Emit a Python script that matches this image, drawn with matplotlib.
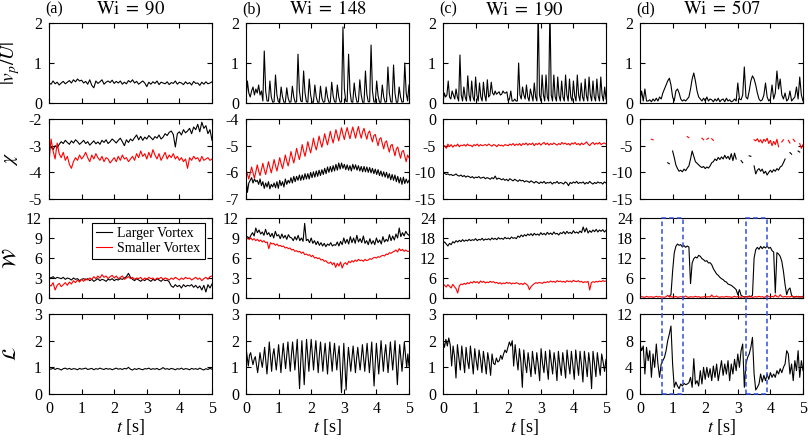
import matplotlib.pyplot as plt
import matplotlib.transforms as mtransforms
from matplotlib.patches import Rectangle
import numpy as np

nan = np.nan

# ---- labels -------------------------------------------------------------
panels = ['(a)', '(b)', '(c)', '(d)']
titles = [r'$\mathrm{Wi}\;=\;90$', r'$\mathrm{Wi}\;=\;148$', r'$\mathrm{Wi}\;=\;190$', r'$\mathrm{Wi}\;=\;507$']
ylabels = [r'$|v_p/U|$', r'$\chi$', r'$\mathcal{W}$', r'$\mathcal{L}$']
legend_labels = ['Larger Vortex', 'Smaller Vortex']

# ---- (a) Wi = 90 --------------------------------------------------------
vp_a = [0.50, 0.47, 0.55, 0.48, 0.52, 0.45, 0.50, 0.54, 0.48, 0.52, 0.56, 0.50, 0.58, 0.53, 0.60, 0.55,
        0.57, 0.50, 0.54, 0.47, 0.58, 0.44, 0.38, 0.55, 0.49, 0.53, 0.58, 0.47, 0.52, 0.55, 0.51, 0.57,
        0.49, 0.54, 0.50, 0.55, 0.47, 0.52, 0.48, 0.56, 0.52, 0.58, 0.50, 0.54, 0.47, 0.51, 0.55, 0.50,
        0.41, 0.52, 0.47, 0.53, 0.49, 0.55, 0.46, 0.52, 0.50, 0.48, 0.53, 0.46, 0.51, 0.49, 0.55, 0.47,
        0.52, 0.50, 0.46, 0.53, 0.48, 0.51, 0.45, 0.54, 0.49, 0.50, 0.44, 0.52, 0.47, 0.53, 0.48, 0.50, 0.53]
chi_a_large = [-3.10, -3.05, -3.15, -3.00, -3.08, -2.95, -2.85, -2.92, -2.80, -2.88, -2.95, -2.82, -2.90,
               -2.78, -2.85, -2.95, -2.88, -2.80, -2.92, -2.85, -2.98, -2.90, -2.82, -2.93, -2.86, -2.95,
               -2.80, -2.88, -2.78, -2.92, -2.85, -2.75, -2.82, -2.90, -2.80, -2.72, -2.85, -3.00, -2.78,
               -2.88, -2.75, -2.82, -2.70, -2.60, -2.78, -2.65, -2.80, -2.68, -2.75, -2.62, -2.70, -2.78,
               -2.66, -2.72, -2.60, -2.75, -2.68, -2.55, -2.62, -2.50, -2.45, -2.58, -3.05, -2.55, -2.48,
               -2.60, -2.40, -2.52, -2.45, -2.35, -2.55, -2.30, -2.40, -2.20, -2.48, -2.12, -2.35, -2.25,
               -2.55, -2.40, -2.80]
chi_a_small = [-3.65, -2.75, -3.20, -3.50, -2.90, -3.30, -3.45, -3.25, -3.55, -3.40, -3.70, -3.85, -3.60,
               -3.45, -3.55, -3.35, -3.50, -3.40, -3.25, -3.45, -3.60, -3.35, -3.50, -3.30, -3.45, -3.55,
               -3.40, -3.60, -3.45, -3.50, -3.65, -3.55, -3.45, -3.60, -3.40, -3.55, -3.35, -3.50, -3.45,
               -3.60, -3.50, -3.40, -3.55, -3.30, -3.45, -3.20, -3.40, -3.30, -3.50, -3.25, -3.45, -3.15,
               -3.35, -3.50, -3.30, -3.55, -3.40, -3.25, -3.50, -3.35, -3.45, -3.30, -3.50, -3.40, -3.55,
               -3.45, -3.60, -3.50, -3.85, -3.45, -3.55, -3.40, -3.50, -3.45, -3.60, -3.40, -3.55, -3.50,
               -3.45, -3.55, -3.50]
w_a_large = [3.1, 3.0, 3.2, 2.9, 3.1, 3.0, 2.9, 3.1, 2.8, 3.0, 2.9, 2.7, 3.0, 2.8, 2.9, 2.6, 2.8, 2.9, 2.7,
             2.9, 2.6, 2.8, 2.5, 2.7, 2.9, 2.6, 2.8, 2.7, 2.5, 2.8, 2.7, 2.9, 2.6, 2.8, 2.7, 2.9, 2.8, 3.0,
             3.2, 3.7, 3.1, 2.8, 2.6, 2.9, 2.7, 2.5, 2.8, 2.6, 2.9, 2.7, 2.5, 2.8, 2.6, 2.9, 2.7, 2.5, 2.8,
             2.6, 2.7, 2.4, 1.8, 1.6, 2.0, 1.7, 1.9, 1.5, 2.0, 1.7, 1.9, 1.8, 2.0, 1.6, 1.9, 1.5, 1.8, 1.2,
             1.9, 0.9, 2.0, 1.5, 2.1]
w_a_small = [2.0, 1.8, 2.3, 1.2, 1.9, 2.2, 1.7, 2.0, 2.3, 1.9, 2.4, 2.1, 2.6, 2.3, 2.7, 2.4, 2.8, 2.5, 2.9,
             2.7, 3.0, 2.8, 3.2, 2.9, 3.3, 3.0, 3.5, 3.1, 3.3, 2.9, 3.2, 3.4, 3.0, 3.3, 2.9, 3.1, 3.3, 2.8,
             3.0, 3.2, 2.9, 3.1, 2.8, 3.0, 2.9, 3.1, 2.7, 3.0, 2.8, 3.1, 2.9, 3.0, 2.7, 3.0, 2.9, 3.1, 2.8,
             3.0, 2.9, 2.7, 3.0, 2.8, 3.1, 2.9, 2.7, 3.0, 2.8, 3.1, 2.9, 3.0, 2.7, 2.9, 3.1, 2.8, 3.0, 2.6,
             2.9, 3.1, 2.8, 3.2, 3.3]
l_a = [0.95, 0.93, 0.97, 0.92, 0.96, 0.94, 0.90, 0.95, 0.97, 0.93, 0.96, 0.92, 0.95, 0.94, 0.91, 0.96,
       0.93, 0.95, 0.97, 0.92, 0.94, 0.96, 0.91, 0.95, 0.93, 0.97, 0.94, 0.92, 0.96, 0.93, 0.95, 0.91,
       0.94, 0.97, 0.93, 0.95, 0.92, 0.96, 0.94, 1.00, 0.93, 0.90, 0.95, 0.92, 0.96, 0.93, 0.91, 0.95,
       0.94, 0.97, 0.92, 0.95, 0.93, 0.96, 0.91, 0.94, 0.99, 0.93, 0.95, 0.92, 0.96, 0.94, 0.91, 0.95,
       0.93, 0.97, 0.92, 0.95, 0.94, 0.91, 0.96, 0.93, 0.95, 0.92, 0.97, 0.93, 0.90, 0.95, 0.92, 0.96, 0.93]

# ---- (b) Wi = 148 -------------------------------------------------------
vp_b = [0.10, 0.55, 0.25, 0.15, 0.30, 0.40, 0.20, 0.35, 0.25, 0.45, 0.20, 0.30,
        0.05, 1.30, 0.30, 0.05, 0.05, 0.55, 0.15, 0.02, 0.03, 0.70, 0.20, 0.03,
        0.02, 0.40, 0.15, 0.02, 0.02, 0.38, 0.12, 0.02, 0.03, 0.42, 0.15, 0.02,
        0.03, 1.22, 0.30, 0.05, 0.03, 0.80, 0.25, 0.03, 0.02, 0.60, 0.20, 0.02,
        0.02, 0.45, 0.15, 0.02, 0.02, 0.42, 0.12, 0.02, 0.03, 0.40, 0.15, 0.02,
        0.02, 0.52, 0.18, 0.03, 0.02, 0.45, 0.15, 0.02, 0.03, 1.90, 0.35, 0.05,
        0.03, 1.22, 0.30, 0.03, 0.02, 0.50, 0.18, 0.02, 0.03, 0.58, 0.20, 0.02,
        0.02, 0.80, 0.22, 0.03, 0.03, 1.45, 0.30, 0.03, 0.02, 0.55, 0.18, 0.02,
        0.02, 0.45, 0.15, 0.02, 0.03, 0.90, 0.25, 0.03, 0.02, 0.95, 0.25, 0.02,
        0.02, 0.40, 0.15, 0.02, 0.03, 1.00, 0.25, 0.05, 0.45]
chi_b_large = [-6.20, -6.75, -6.40, -6.30, -6.20, -6.40, -6.25, -6.35, -6.30, -6.45, -6.25, -6.50,
               -6.35, -6.60, -6.40, -6.55, -6.35, -6.62, -6.45, -6.55, -6.40, -6.58, -6.35, -6.60,
               -6.30, -6.50, -6.35, -6.55, -6.25, -6.45, -6.30, -6.40, -6.20, -6.40, -6.15, -6.35,
               -6.15, -6.30, -6.10, -6.30, -6.10, -6.28, -6.05, -6.25, -6.05, -6.25, -6.00, -6.20,
               -5.98, -6.18, -5.95, -6.15, -5.92, -6.12, -5.90, -6.08, -5.85, -6.05, -5.80, -6.00,
               -5.78, -5.98, -5.75, -5.95, -5.70, -5.92, -5.65, -5.88, -5.65, -5.85, -5.70, -5.90,
               -5.72, -5.92, -5.75, -5.95, -5.70, -5.88, -5.72, -5.92, -5.75, -5.95, -5.78, -5.98,
               -5.78, -5.98, -5.80, -6.00, -5.82, -6.02, -5.85, -6.05, -5.88, -6.08, -5.90, -6.12,
               -5.95, -6.15, -5.98, -6.18, -6.00, -6.22, -6.05, -6.28, -6.08, -6.30, -6.10, -6.35,
               -6.15, -6.40, -6.20, -6.45, -6.18, -6.42, -6.25, -6.40, -6.30]
chi_b_small = [-5.87, -6.07, -6.25, -6.03, -5.80, -6.02, -6.22, -5.98, -5.72, -5.95, -6.12, -5.90,
               -5.66, -5.90, -6.08, -5.85, -5.60, -5.82, -6.02, -5.78, -5.52, -5.75, -5.95, -5.70,
               -5.45, -5.68, -5.86, -5.62, -5.35, -5.58, -5.76, -5.52, -5.22, -5.45, -5.65, -5.40,
               -5.10, -5.32, -5.52, -5.27, -4.96, -5.20, -5.40, -5.15, -4.85, -5.08, -5.27, -5.02,
               -4.72, -4.98, -5.16, -4.92, -4.64, -4.87, -5.06, -4.82, -4.55, -4.78, -4.97, -4.72,
               -4.46, -4.70, -4.90, -4.65, -4.40, -4.62, -4.82, -4.57, -4.33, -4.58, -4.77, -4.52,
               -4.32, -4.55, -4.74, -4.50, -4.30, -4.52, -4.72, -4.47, -4.28, -4.53, -4.72, -4.48,
               -4.35, -4.58, -4.76, -4.52, -4.45, -4.68, -4.86, -4.62, -4.58, -4.80, -5.00, -4.75,
               -4.70, -4.92, -5.12, -4.88, -4.82, -5.05, -5.24, -5.00, -4.95, -5.17, -5.38, -5.12,
               -5.05, -5.28, -5.47, -5.22, -5.18, -5.40, -5.60, -5.35, -5.45]
w_b_large = [9.0, 9.2, 8.9, 9.4, 9.8, 9.3, 10.5, 9.8, 10.2, 9.6, 9.9, 9.4, 10.3, 9.5, 9.8, 9.2, 9.7,
             9.0, 10.0, 9.3, 9.5, 8.9, 9.6, 9.0, 9.4, 8.8, 9.5, 9.1, 9.0, 8.6, 9.2, 8.7, 9.4, 8.6, 9.0,
             8.5, 11.2, 8.6, 8.8, 8.3, 9.0, 8.2, 8.6, 8.0, 8.5, 7.9, 8.3, 7.8, 8.2, 7.7, 8.1, 7.9, 8.3,
             7.8, 8.0, 7.9, 8.4, 7.8, 8.5, 8.0, 9.0, 8.2, 8.8, 8.1, 9.2, 8.3, 9.0, 8.2, 9.4, 8.4, 8.9,
             8.3, 9.3, 8.2, 8.6, 8.0, 8.9, 8.1, 8.6, 8.0, 9.0, 8.3, 8.7, 8.1, 9.2, 8.4, 8.8, 8.5, 9.5,
             8.6, 9.3, 8.7, 9.6, 9.0, 10.5, 9.2, 9.8, 9.3, 10.0, 9.6, 9.4]
w_b_small = [9.0, 8.9, 8.8, 9.0, 8.7, 8.9, 8.6, 8.8, 8.5, 8.7, 8.4, 8.6, 8.3, 8.4, 7.4, 8.3, 8.1, 8.2,
             7.9, 8.1, 7.8, 7.9, 7.7, 7.8, 7.5, 7.6, 7.4, 7.5, 7.2, 7.3, 7.0, 7.1, 6.9, 7.0, 6.7, 6.9,
             6.5, 6.6, 6.4, 6.5, 6.2, 6.4, 6.0, 6.1, 5.9, 6.0, 5.7, 5.8, 5.5, 5.6, 5.3, 5.2, 5.4, 5.0,
             5.3, 4.6, 5.2, 4.8, 5.4, 4.5, 5.1, 5.3, 5.0, 5.5, 5.3, 5.6, 5.4, 5.7, 5.5, 5.8, 5.6, 5.7,
             5.5, 5.8, 5.6, 5.7, 5.9, 5.8, 6.0, 6.1, 6.0, 6.2, 6.1, 6.3, 6.4, 6.3, 6.6, 6.5, 6.8, 6.7,
             6.9, 7.0, 7.2, 6.9, 7.4, 7.1, 7.3, 7.0, 7.2, 7.0, 7.0]
l_b = [1.75, 1.40, 1.05, 1.45, 1.55, 1.30, 1.10, 1.30, 1.40, 1.10, 0.80, 1.15, 1.55, 1.25, 1.00, 1.35,
       1.75, 1.25, 0.75, 1.30, 1.95, 1.40, 0.85, 1.45, 1.70, 1.30, 0.90, 1.35, 1.85, 1.30, 0.80, 1.40,
       1.90, 1.40, 0.95, 1.45, 1.95, 1.40, 0.85, 1.45, 1.95, 1.40, 0.90, 1.50, 2.05, 1.10, 0.20, 1.20,
       2.00, 1.20, 0.35, 1.25, 2.05, 1.45, 0.85, 1.50, 2.05, 1.45, 0.90, 1.50, 2.00, 1.40, 0.80, 1.45,
       1.95, 1.40, 0.85, 1.45, 1.90, 1.30, 0.75, 1.40, 1.95, 1.40, 0.85, 1.45, 1.90, 1.40, 0.90, 1.45,
       1.80, 0.90, 0.05, 1.00, 1.90, 1.00, 0.15, 1.10, 1.75, 1.30, 0.85, 1.35, 1.80, 1.30, 0.80, 1.35,
       1.75, 1.30, 0.90, 1.35, 1.85, 1.35, 0.85, 1.40, 1.90, 1.35, 0.80, 1.40, 1.95, 1.10, 0.30, 1.15,
       1.90, 1.30, 0.75, 1.35, 2.00, 1.40, 0.85, 1.45, 1.85, 1.30, 0.80, 1.40, 1.95, 1.40, 0.90, 1.45,
       2.00, 1.15, 0.35, 1.20, 1.85, 1.35, 0.85, 1.40, 1.95, 1.45, 1.00, 1.50, 1.05]

# ---- (c) Wi = 190 -------------------------------------------------------
vp_c = [0.00, 0.25, 0.15, 0.20, 0.55, 0.15, 0.10, 0.30, 0.20, 0.10, 0.35, 0.15, 0.05, 1.20, 0.20,
        0.05, 0.40, 0.15, 0.05, 0.68, 0.20, 0.05, 0.55, 0.15, 0.05, 0.65, 0.20, 0.05, 0.50, 0.15,
        0.05, 0.52, 0.20, 0.05, 0.58, 0.15, 0.20, 0.52, 0.25, 0.20, 0.30, 0.22, 0.25, 0.28, 0.20,
        0.22, 0.30, 0.25, 0.25, 0.28, 0.05, 0.10, 0.30, 0.05, 0.05, 0.10, 0.05, 0.05, 1.00, 0.20,
        0.10, 0.40, 0.20, 0.10, 0.45, 0.15, 0.05, 0.35, 0.20, 0.05, 0.50, 0.15, 0.05, 2.40, 0.20,
        0.05, 0.70, 0.20, 0.05, 0.70, 0.15, 0.05, 2.40, 0.20, 0.05, 0.70, 0.15, 0.05, 0.65, 0.18,
        0.05, 0.55, 0.15, 0.05, 0.70, 0.20, 0.05, 0.60, 0.15, 0.05, 0.55, 0.18, 0.05, 0.70, 0.20,
        0.05, 0.50, 0.15, 0.05, 0.60, 0.18, 0.05, 0.65, 0.20, 0.05, 0.55, 0.15, 0.05, 0.60, 0.18,
        0.05, 0.65, 0.20, 0.05, 0.40, 0.10]
chi_c_large = [-10.0, -10.2, -10.4, -10.3, -10.5, -10.4, -10.6, -10.5, -10.3, -10.6, -10.7, -10.5, -10.8,
               -10.6, -10.9, -10.7, -10.8, -11.0, -10.8, -11.1, -10.9, -11.0, -10.8, -11.1, -11.0, -10.9,
               -11.2, -11.0, -11.1, -11.3, -11.0, -11.2, -10.7, -11.3, -11.1, -11.2, -11.4, -11.2, -11.5,
               -11.3, -11.6, -11.2, -11.4, -11.6, -11.3, -11.5, -11.7, -11.4, -11.6, -11.5, -11.8, -11.6,
               -11.7, -11.9, -11.6, -11.8, -12.0, -11.7, -11.9, -12.1, -11.8, -12.0, -11.7, -12.1, -11.9,
               -12.0, -11.8, -12.2, -11.9, -12.0, -11.7, -12.1, -11.9, -12.0, -12.2, -11.8, -12.0, -12.5,
               -11.9, -12.1, -11.8, -12.0, -11.7, -12.1, -11.9, -12.0, -11.8, -12.2, -11.9, -12.1, -11.7,
               -12.0, -12.2, -11.9, -12.1, -11.8, -12.0, -11.9, -12.2, -11.8, -12.0]
chi_c_small = [-5.3, -5.0, -5.5, -4.7, -5.2, -4.8, -5.3, -4.9, -5.1, -4.7, -5.2, -4.9, -5.0, -4.8, -5.1,
               -4.7, -5.0, -4.9, -5.2, -4.8, -5.0, -4.7, -5.1, -4.8, -5.0, -4.9, -4.8, -5.0, -4.7, -4.9,
               -5.1, -4.8, -4.9, -5.2, -4.8, -5.0, -4.9, -5.1, -4.8, -4.9, -5.0, -4.7, -4.9, -4.6, -5.0,
               -4.7, -4.9, -4.6, -5.0, -4.6, -4.8, -4.5, -4.9, -4.6, -4.8, -4.5, -5.0, -4.6, -4.8, -4.5,
               -4.9, -4.6, -4.4, -4.8, -4.5, -4.9, -4.6, -4.8, -4.5, -4.7, -4.9, -4.6, -4.8, -4.4, -4.7,
               -4.5, -4.8, -4.6, -4.9, -4.5, -4.7, -4.4, -4.8, -4.6, -4.9, -4.5, -4.8, -4.6, -4.3, -4.7,
               -5.0, -4.6, -4.4, -4.8, -4.5, -4.7, -4.4, -4.8, -4.6, -4.5, -4.7]
w_c_large = [16.5, 16.8, 16.2, 15.6, 16.4, 16.0, 16.9, 16.5, 17.2, 16.8, 17.3, 16.9, 17.5, 17.0, 17.4,
             17.1, 17.6, 17.2, 17.5, 17.3, 17.8, 17.2, 17.6, 17.4, 17.9, 17.3, 17.7, 17.5, 17.8, 17.4,
             18.0, 17.6, 17.9, 17.5, 18.1, 17.7, 17.9, 17.6, 18.2, 17.8, 18.0, 17.7, 18.3, 17.9, 18.1,
             17.8, 18.6, 18.2, 18.9, 18.4, 19.0, 18.6, 19.2, 18.8, 19.3, 18.7, 19.4, 18.9, 19.2, 18.8,
             19.6, 19.0, 19.4, 18.9, 19.7, 19.1, 19.5, 19.0, 19.8, 19.2, 19.4, 18.9, 19.6, 19.3, 19.9,
             19.2, 20.0, 19.4, 19.7, 19.3, 20.2, 19.5, 19.8, 19.4, 20.1, 19.6, 21.3, 19.8, 21.0, 19.5,
             20.2, 19.7, 20.4, 19.9, 20.6, 19.8, 20.4, 20.0, 20.5, 19.8, 20.3]
w_c_small = [4.2, 3.8, 3.3, 4.0, 3.5, 3.0, 4.1, 3.4, 2.8, 1.5, 3.6, 4.2, 4.0, 4.4, 4.1, 4.6, 4.3, 4.8,
             4.5, 5.0, 4.6, 4.9, 4.4, 5.1, 4.7, 5.0, 4.5, 4.8, 4.6, 5.0, 4.7, 4.9, 4.5, 4.7, 4.3, 4.6,
             4.2, 4.5, 4.3, 4.7, 4.4, 4.6, 4.2, 4.5, 4.3, 4.6, 4.4, 4.1, 4.4, 4.0, 4.5, 4.2, 3.8, 2.5,
             3.4, 3.9, 4.3, 4.6, 4.4, 4.7, 4.5, 4.4, 4.8, 4.6, 4.9, 4.7, 5.1, 4.8, 5.0, 4.7, 5.2, 4.9,
             5.1, 4.8, 5.0, 4.7, 5.2, 4.9, 5.1, 4.8, 5.3, 5.0, 4.9, 5.2, 4.8, 5.0, 4.6, 4.9, 4.7, 5.0,
             2.4, 4.6, 4.9, 4.7, 5.0, 4.8, 5.1, 4.9, 5.2, 5.0, 5.1]
l_c = [2.00, 1.75, 2.05, 1.80, 2.10, 1.85,
       1.05, 1.80, 1.40, 0.60, 1.85, 1.35, 0.90, 1.80, 1.30, 0.80, 1.75, 1.25, 0.95, 1.80, 1.30,
       0.75, 1.70, 1.25, 0.90, 1.65, 1.30, 0.80, 1.60, 1.20, 0.75, 1.55, 1.20, 0.70, 1.50, 1.15,
       1.10, 1.35, 1.20, 1.25, 1.45, 1.30, 1.50, 1.65, 1.55, 1.75, 1.95, 1.80,
       2.00, 1.05, 1.85, 1.35, 0.90, 1.70, 1.20, 0.25, 1.65, 1.15,
       0.80, 1.55, 1.10, 0.65, 1.60, 1.15, 0.75, 1.55, 1.10, 0.50, 1.70, 1.15, 0.80, 1.60, 1.05,
       0.55, 1.65, 1.20, 0.75, 1.55, 1.15, 0.50, 1.60, 1.10, 0.70, 1.55, 1.10, 0.60, 1.65, 1.15,
       0.75, 1.60, 1.10, 0.55, 1.65, 1.15, 0.70, 1.60, 1.10, 0.45, 1.60, 1.15, 0.65, 1.55, 1.10,
       0.20, 1.60, 1.15, 0.65, 1.55, 1.10, 0.70, 1.50, 1.20, 0.85, 1.30]

# ---- (d) Wi = 507 -------------------------------------------------------
vp_d = [0.05, 0.30, 0.05, 0.35, 0.05, 0.05, 0.08, 0.03, 0.10, 0.05, 0.12, 0.05, 0.15, 0.10, 0.25,
        0.35, 0.45, 0.55, 0.62, 0.45, 0.15, 0.05, 0.30, 0.35, 0.25, 0.10, 0.05, 0.08, 0.05, 0.10,
        0.15, 0.35, 0.60, 0.75, 0.55, 0.30, 0.15, 0.10, 0.05, 0.12, 0.05, 0.15, 0.05, 0.10, 0.08,
        0.03, 0.10, 0.05, 0.12, 0.03, 0.08, 0.10, 0.03, 0.12, 0.05, 0.08, 0.03, 0.05, 0.10, 0.05,
        0.50, 0.10, 0.08, 0.20, 0.90, 0.15, 0.10, 0.30, 0.55, 0.68, 0.60, 0.45, 0.25, 0.10, 0.05,
        0.08, 0.20, 0.50, 0.15, 0.05, 0.10, 0.45, 0.10, 0.25, 0.80, 0.35, 0.60, 0.20, 0.10, 0.25,
        0.05, 0.10, 0.30, 0.05, 0.10, 0.15, 0.40, 0.10, 0.65, 0.20, 0.05]
chi_d_large = [nan] * 17 + [
    -8.2, -8.4, nan, -6.0, -7.2, -8.6, -9.3, -9.8, -9.6, -9.9, -9.4, -9.7, -9.2, -8.8, -7.5, -6.0,
    -7.0, -8.0, -8.3, -8.6, -8.9, -9.1, -8.9, -9.3, -9.0, -9.2, -8.8, -8.2, -8.0, -7.5, -7.8, -7.2,
    -7.6, -7.1, -7.5, -6.8, -7.4, -7.0, -7.6, -6.5, -7.8, -6.4, -7.5, nan, nan, -7.8, -8.2, nan,
    nan, nan, -6.9, -7.0, nan, -8.8, -10.3, -9.6, -9.3, -9.8, -9.4, -10.2, -9.8, -10.5, -10.0,
    -9.6, -10.0, -9.5, -9.8, -9.3, -9.6, -9.0, -8.8, -8.2, -7.5, nan, nan, -6.3, -6.6, nan, nan,
    nan, -6.0, -6.2, nan, nan]
chi_d_small = [nan] * 7 + [-3.8, -3.9] + [nan] * 20 + [-3.3, -3.5] + [nan] * 7 + [
    -3.6, -3.9, nan, -3.8, -3.6, nan, -3.7, -4.0] + [nan] * 24 + [
    -3.9, -4.1, -3.7, -4.3, -3.9, -4.5, -3.8, -4.2, -3.6, -4.6, -4.0, -5.0, -4.2, -4.8, -3.8, -5.2,
    nan, -4.3, -3.9, nan, nan, -4.0, -4.5, nan, -3.8, -4.2, nan, nan, -4.6, -5.5, -4.8]
w_d_large = [nan] * 18 + [
    0.5, 1.0, 8.0, 13.5, 15.5, 16.2, 15.8, 16.0, 15.3, 15.7, 15.2, 15.6, 15.3, 4.3, 10.5, 11.8,
    12.3, 12.0, 12.8, 12.5, 11.8, 11.5, 11.0, 11.2, 10.5, 10.6, 10.0, 8.8, 8.0, 7.2, 6.8, 6.2,
    5.8, 5.5, 5.0, 4.8, 4.2, 4.0, 3.8, 3.4, 3.0, 2.5, 1.0, 2.5, 0.8, 0.5, 0.3, 0.4, 0.3, 0.6,
    0.4, 0.8, 12.0, 14.5, 15.2, 14.6, 15.5, 14.8, 15.4, 15.0, 15.6, 14.9, 15.2, 14.2, 13.8, 1.5,
    13.6, 13.2, 12.5, 11.0, 8.0, 4.0, 1.0, 2.5, 3.0, 0.8, 0.3, 0.3, 0.5, 0.3, 0.4, 0.3, 0.5]
w_d_small = [0.3, 0.4, 0.3, 0.2, 0.5, 0.3, 0.3, 0.4, 0.2, 0.3, 0.5, 0.3, 0.4, 0.3, 0.3, 0.2, 0.4, 0.8,
             0.3, 0.4, 0.3, 0.3, 0.5, 0.2, 0.3, 0.4, 0.3, 0.3, 0.6, 0.3, 0.2, 0.4, 0.3, 0.3, 0.5, 0.3,
             0.4, 0.2, 0.3, 0.3, 0.5, 0.3, 0.4, 0.3, 0.9, 0.3, 0.4, 0.6, 0.3, 0.2, 0.4, 0.3, 0.3, 0.5,
             0.3, 0.4, 0.2, 0.3, 0.5, 0.3, 0.4, 0.3, 0.2, 0.4, 0.3, 0.3, 0.5, 0.3, 0.4, 0.2, 0.3, 0.4,
             0.3, 0.5, 0.3, 0.4, 0.2, 0.3, 0.8, 0.4, 0.3, 0.5, 0.3, 0.9, 0.4, 0.3, 1.0, 0.4, 0.3, 0.5,
             0.3, 0.4, 0.3, 0.6, 0.3, 0.4, 0.3, 0.5, 0.3, 0.4, 0.3]
l_d = [7.5, 6.5, 7.2, 3.0, 7.0, 5.0, 6.5, 2.5, 6.0, 4.0, 7.5, 4.5, 2.5, 4.5, 5.0, 5.5, 6.5, 8.0, 9.0,
       10.2, 4.5, 1.0, 1.8, 1.2, 0.8, 1.5, 1.2, 1.6, 1.4, 1.5, 1.7, 2.5, 1.0, 5.3, 1.5, 2.0, 1.2, 3.5,
       1.5, 4.0, 2.2, 4.0, 2.5, 3.8, 2.0, 4.2, 2.5, 4.5, 2.0, 3.5, 5.0, 2.8, 4.5, 3.0, 5.0, 2.0, 4.5,
       3.0, 5.2, 3.5, 6.0, 4.0, 6.5, 7.5, 1.0, 4.5, 5.5, 6.0, 7.0, 8.5, 3.0, 0.6, 1.0, 1.5, 3.0, 1.8,
       2.8, 2.0, 3.0, 2.2, 3.2, 2.5, 3.0, 2.5, 3.5, 3.0, 3.8, 3.2, 4.0, 4.5, 6.5, 6.0, 3.0, 4.5, 2.0,
       5.0, 3.5, 6.5, 2.5, 5.0, 3.5]

# dashed boxes in panel (d), in seconds
box_spans = [(0.68, 1.31), (3.24, 3.89)]

# grid layout: rows = quantity, columns = Wi
data = [
    [[vp_a], [vp_b], [vp_c], [vp_d]],
    [[chi_a_large, chi_a_small], [chi_b_large, chi_b_small], [chi_c_large, chi_c_small], [chi_d_large, chi_d_small]],
    [[w_a_large, w_a_small], [w_b_large, w_b_small], [w_c_large, w_c_small], [w_d_large, w_d_small]],
    [[l_a], [l_b], [l_c], [l_d]],
]
ylims = [
    [(0, 2), (0, 2), (0, 2), (0, 2)],
    [(-5, -2), (-7, -4), (-15, 0), (-15, 0)],
    [(0, 12), (0, 12), (0, 24), (0, 24)],
    [(0, 3), (0, 3), (0, 3), (0, 12)],
]
ysteps = [[1, 1, 1, 1], [1, 1, 5, 5], [3, 3, 6, 6], [1, 1, 1, 4]]

plt.rcParams['font.family'] = ['Liberation Serif', 'DejaVu Serif']
plt.rcParams['mathtext.fontset'] = 'stix'
plt.rcParams['axes.unicode_minus'] = False

W, H = 808, 442
fig = plt.figure(figsize=(W / 100, H / 100), dpi=100)

col_left = [49, 246, 443, 640]
row_top = [23, 119, 218, 314]
ax_w, ax_h = 163, 80
colors = ['black', 'red']

axes = [[None] * 4 for _ in range(4)]
for r in range(4):
    for c in range(4):
        ax = fig.add_axes([col_left[c] / W, 1 - (row_top[r] + ax_h) / H, ax_w / W, ax_h / H])
        axes[r][c] = ax
        for k, series in enumerate(data[r][c]):
            y = np.array(series, dtype=float)
            t = np.linspace(0, 5, len(y))
            ax.plot(t, y, color=colors[k], lw=0.8, label=legend_labels[k])
        lo, hi = ylims[r][c]
        ax.set_xlim(0, 5)
        ax.set_ylim(lo, hi)
        ax.set_xticks(range(6))
        ax.set_yticks(np.arange(lo, hi + 0.01, ysteps[r][c]))
        ax.tick_params(direction='in', top=True, right=True, length=3.5, width=0.8,
                       labelsize=11.5, pad=5)
        for s in ax.spines.values():
            s.set_linewidth(0.8)
        if r < 3:
            ax.set_xticklabels([])
        else:
            ax.set_xlabel(r'$t$ [s]', fontsize=13, labelpad=0)
        if r == 0:
            ax.text(-0.025, 1.17, panels[c], transform=ax.transAxes, ha='left', va='center', fontsize=11.5)
            ax.text(0.5, 1.17, titles[c], transform=ax.transAxes, ha='center', va='center', fontsize=13.5)
        if c == 0:
            yc = 1 - (row_top[r] + ax_h / 2) / H
            fig.text(11 / W, yc, ylabels[r], rotation=90, ha='center', va='center', fontsize=14)

leg = axes[2][0].legend(loc='upper right', bbox_to_anchor=(0.955, 0.94), fontsize=10,
                        frameon=True, fancybox=False, edgecolor='black', framealpha=1,
                        handlelength=1.1, handletextpad=0.4, borderpad=0.3, labelspacing=0.15,
                        borderaxespad=0)
leg.get_frame().set_linewidth(0.8)

# dashed boxes spanning the last two rows of column (d)
ax_top, ax_bot = axes[2][3], axes[3][3]
trans = mtransforms.blended_transform_factory(ax_top.transData, fig.transFigure)
y_bot = ax_bot.get_position().y0
y_top = ax_top.get_position().y1
for x0, x1 in box_spans:
    fig.patches.append(Rectangle((x0, y_bot), x1 - x0, y_top - y_bot, transform=trans, fill=False,
                                 edgecolor='#2f4fd8', ls=(0, (3, 2)), lw=1.1, figure=fig))

fig.savefig('out.png', dpi=100)
